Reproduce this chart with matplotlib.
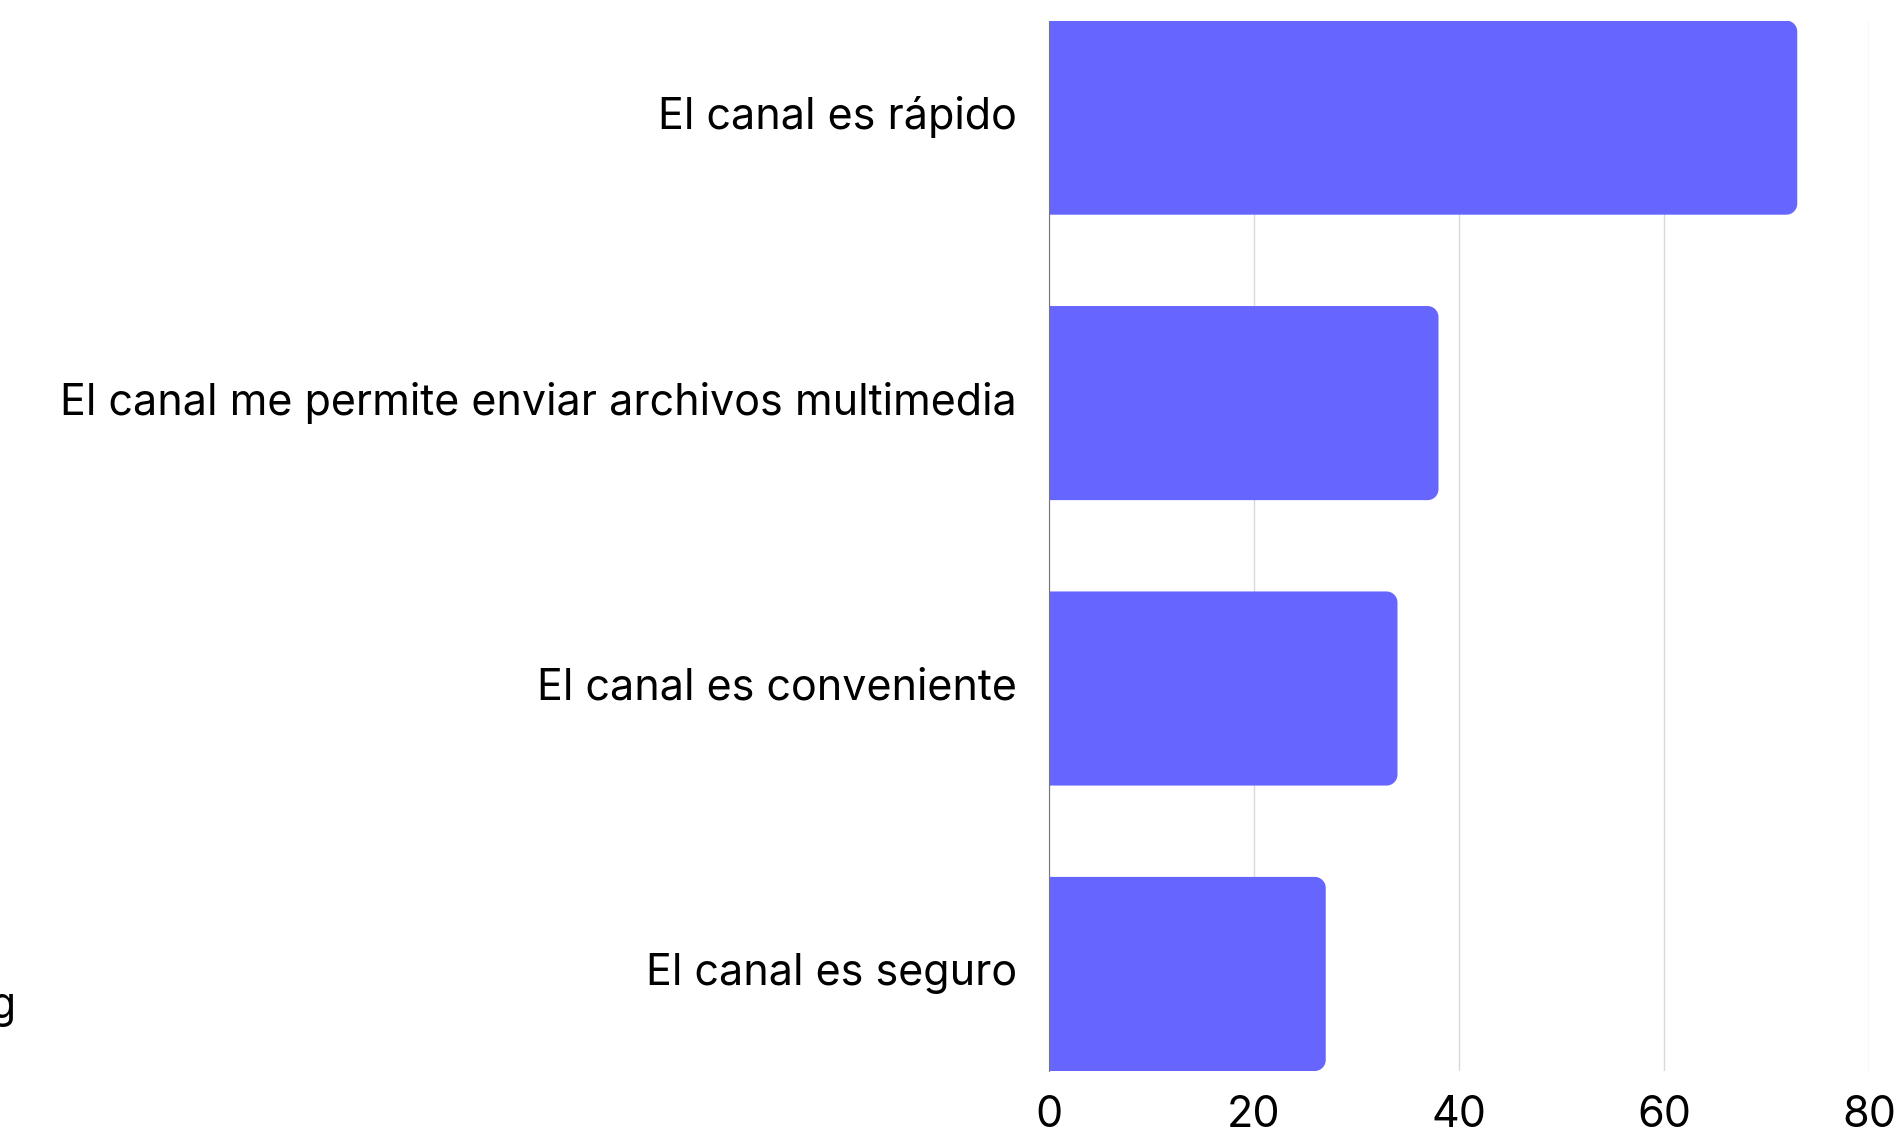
import matplotlib
matplotlib.use("Agg")
import matplotlib.pyplot as plt
from matplotlib.path import Path
from matplotlib.patches import PathPatch
from matplotlib.transforms import ScaledTranslation

plt.rcParams['font.family'] = ['Inter', 'DejaVu Sans']

categories = [
    "El canal es rápido",
    "El canal me permite enviar archivos multimedia",
    "El canal es conveniente",
    "El canal es seguro",
]
values = [73, 38, 34, 27]
x_ticks = [0, 20, 40, 60, 80]

bar_color = "#6666FF"
W, H = 1902, 1129
fig = plt.figure(figsize=(W / 100, H / 100), dpi=100)
ax = fig.add_axes([1049 / W, 1 - 1071 / H, (1869 - 1049) / W, (1071 - 20.6) / H])

y_pos = list(range(len(categories)))
bars = ax.barh(y_pos, values, height=0.68, color=bar_color, zorder=3)
ax.set_xlim(0, 80)
ax.set_ylim(len(categories) - 0.66, -0.34)
ax.set_xticks(x_ticks)
ax.set_xticklabels([str(t) for t in x_ticks])
ax.set_yticks(y_pos)
ax.set_yticklabels(categories)
ax.tick_params(axis='both', length=0, labelsize=31)
ax.tick_params(axis='y', pad=23)
ax.tick_params(axis='x', pad=17)
ax.grid(axis='x', color='#d9d9d9', linewidth=1.0, zorder=0)
ax.grid(axis='y', visible=False)
for side in ('top', 'right', 'bottom'):
    ax.spines[side].set_visible(False)
ax.spines['left'].set_color('#777777')
ax.spines['left'].set_linewidth(0.8)
ax.spines['left'].set_zorder(4)

# Nudge category labels slightly upward
shift = ScaledTranslation(0, 5 / 100, fig.dpi_scale_trans)
for lbl in ax.get_yticklabels():
    lbl.set_transform(lbl.get_transform() + shift)

# Replace plain rectangles with bars that have rounded right corners
fig.canvas.draw()
r_px = 11
x_unit = ax.transData.transform((1, 0))[0] - ax.transData.transform((0, 0))[0]
y_unit = abs(ax.transData.transform((0, 1))[1] - ax.transData.transform((0, 0))[1])
rx, ry = r_px / x_unit, r_px / y_unit
k = 0.5523
for b in bars:
    x0, y0 = b.get_x(), b.get_y()
    x1, y1 = x0 + b.get_width(), y0 + b.get_height()
    verts = [
        (x0, y0), (x1 - rx, y0),
        (x1 - rx + k * rx, y0), (x1, y0 + ry - k * ry), (x1, y0 + ry),
        (x1, y1 - ry),
        (x1, y1 - ry + k * ry), (x1 - rx + k * rx, y1), (x1 - rx, y1),
        (x0, y1), (x0, y0),
    ]
    codes = [Path.MOVETO, Path.LINETO,
             Path.CURVE4, Path.CURVE4, Path.CURVE4,
             Path.LINETO,
             Path.CURVE4, Path.CURVE4, Path.CURVE4,
             Path.LINETO, Path.CLOSEPOLY]
    ax.add_patch(PathPatch(Path(verts, codes), facecolor=bar_color,
                           edgecolor='none', zorder=3))
    b.set_visible(False)

fig.text(17 / W, 1 - 1018 / H, "Messaging", ha='right', va='baseline', fontsize=31)

fig.savefig("out.png", dpi=100)
